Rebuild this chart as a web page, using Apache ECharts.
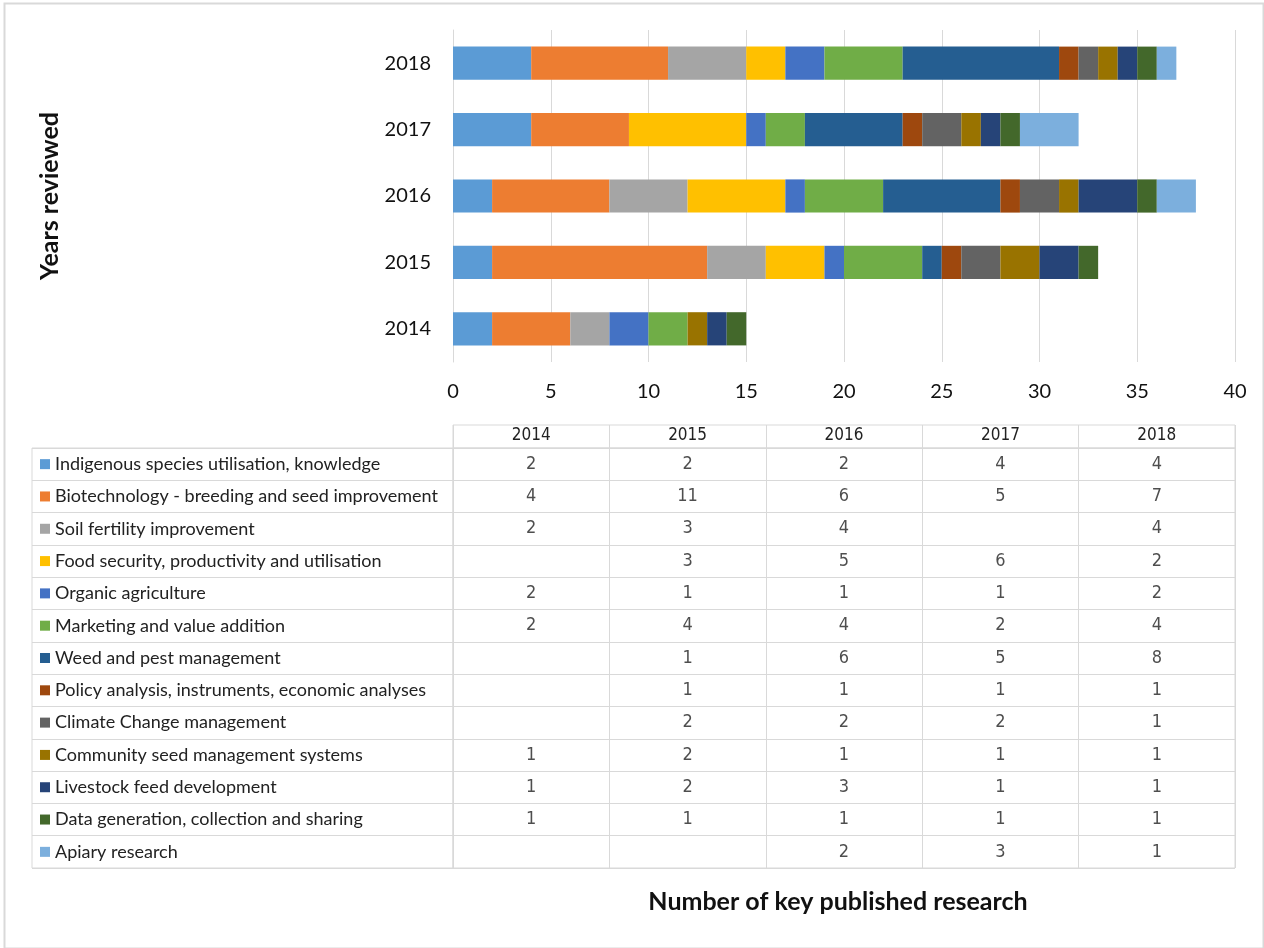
<!DOCTYPE html>
<html>
<head>
<meta charset="utf-8">
<script src="https://cdn.jsdelivr.net/npm/echarts@6/dist/echarts.min.js"></script>
<style>
html,body{margin:0;padding:0;background:#fff;}
#chart{width:1264px;height:948px;}
</style>
</head>
<body>
<div id="chart"></div>
<script>
// ---- data ----
const years = ['2014', '2015', '2016', '2017', '2018'];
const xTicks = [0, 5, 10, 15, 20, 25, 30, 35, 40];
const topics = [
  'Indigenous species utilisation, knowledge',
  'Biotechnology - breeding and seed improvement',
  'Soil fertility improvement',
  'Food security, productivity and utilisation',
  'Organic agriculture',
  'Marketing and value addition',
  'Weed and pest management',
  'Policy analysis, instruments, economic analyses',
  'Climate Change management',
  'Community seed management systems',
  'Livestock feed development',
  'Data generation, collection and sharing',
  'Apiary research'
];
const indigenous = [2, 2, 2, 4, 4];
const biotechnology = [4, 11, 6, 5, 7];
const soilFertility = [2, 3, 4, null, 4];
const foodSecurity = [null, 3, 5, 6, 2];
const organic = [2, 1, 1, 1, 2];
const marketing = [2, 4, 4, 2, 4];
const weedPest = [null, 1, 6, 5, 8];
const policy = [null, 1, 1, 1, 1];
const climate = [null, 2, 2, 2, 1];
const communitySeed = [1, 2, 1, 1, 1];
const livestock = [1, 2, 3, 1, 1];
const dataGeneration = [1, 1, 1, 1, 1];
const apiary = [null, null, 2, 3, 1];

const seriesValues = [indigenous, biotechnology, soilFertility, foodSecurity, organic,
  marketing, weedPest, policy, climate, communitySeed, livestock, dataGeneration, apiary];

const colors = ['#5B9BD5', '#ED7D31', '#A5A5A5', '#FFC000', '#4472C4', '#70AD47',
  '#255E91', '#9E480E', '#636363', '#997300', '#264478', '#43682B', '#7CAFDD'];

// ---- build ----
const FONT = 'Lato, "Open Sans", sans-serif';
const NARROW = '"Liberation Sans Narrow", "DejaVu Sans Condensed", Lato, sans-serif';
const GRIDC = '#d9d9d9';

const rich = { t: { fontFamily: FONT, fontSize: 18, color: '#222', padding: [0, 0, 0, 5] } };
colors.forEach((c, i) => { rich['c' + i] = { width: 10, height: 10, backgroundColor: c }; });

const barSeries = topics.map((name, i) => ({
  name: name,
  type: 'bar',
  stack: 'total',
  xAxisIndex: 0,
  yAxisIndex: 0,
  barWidth: '50%',
  itemStyle: { color: colors[i] },
  data: seriesValues[i]
}));

const cellData = [];
seriesValues.forEach((vals, r) => {
  vals.forEach((v, c) => { if (v !== null) cellData.push([c, r, v]); });
});

const chart = echarts.init(document.getElementById('chart'), null, { renderer: 'canvas' });
chart.setOption({
  animation: false,
  backgroundColor: '#fff',
  textStyle: { fontFamily: FONT },
  graphic: [{
    type: 'rect', left: 2, top: 1, shape: { width: 1259, height: 945 },
    style: { fill: 'none', stroke: GRIDC, lineWidth: 2 }, silent: true
  }],
  grid: [
    { left: 453, top: 30, width: 782, height: 332 },
    { left: 453, top: 425, width: 782, height: 23, show: true, borderColor: GRIDC, borderWidth: 1 },
    { left: 32, top: 448, width: 421, height: 420, show: true, borderColor: GRIDC, borderWidth: 1 },
    { left: 453, top: 448, width: 782, height: 420, show: true, borderColor: GRIDC, borderWidth: 1 }
  ],
  xAxis: [
    {
      gridIndex: 0, type: 'value', min: xTicks[0], max: xTicks[xTicks.length - 1], interval: 5,
      axisLine: { show: false }, axisTick: { show: false },
      splitLine: { lineStyle: { color: GRIDC, width: 1 } },
      axisLabel: { fontSize: 20, color: '#111', margin: 20, fontFamily: FONT },
      name: 'Number of key published research', nameLocation: 'middle', nameGap: 527,
      nameTextStyle: { fontSize: 25, fontWeight: 'bold', color: '#111', fontFamily: FONT, padding: [0, 12, 0, 0] }
    },
    {
      gridIndex: 1, type: 'category', data: years, position: 'bottom',
      axisLine: { show: false }, axisTick: { show: false },
      splitLine: { show: true, interval: 0, lineStyle: { color: GRIDC } },
      axisLabel: { inside: true, margin: 4, fontSize: 17, color: '#222', fontFamily: NARROW, interval: 0 }
    },
    { gridIndex: 2, type: 'category', data: [''], show: false },
    {
      gridIndex: 3, type: 'category', data: years,
      axisLine: { show: false }, axisTick: { show: false }, axisLabel: { show: false },
      splitLine: { show: true, interval: 0, lineStyle: { color: GRIDC } }
    }
  ],
  yAxis: [
    {
      gridIndex: 0, type: 'category', data: years,
      axisLine: { show: true, lineStyle: { color: GRIDC } }, axisTick: { show: false },
      axisLabel: { fontSize: 20, color: '#111', margin: 22, fontFamily: FONT },
      name: 'Years reviewed', nameLocation: 'middle', nameGap: 391, nameRotate: 90,
      nameTextStyle: { fontSize: 25, fontWeight: 'bold', color: '#111', fontFamily: FONT }
    },
    { gridIndex: 1, type: 'category', data: [''], show: false },
    {
      gridIndex: 2, type: 'category', data: topics, inverse: true,
      axisLine: { show: false }, axisTick: { show: false },
      splitLine: { show: true, interval: 0, lineStyle: { color: GRIDC } },
      axisLabel: {
        inside: true, margin: 8, interval: 0,
        formatter: (v, i) => '{c' + i + '|}{t|' + v + '}',
        rich: rich
      }
    },
    {
      gridIndex: 3, type: 'category', data: topics, inverse: true,
      axisLine: { show: false }, axisTick: { show: false }, axisLabel: { show: false },
      splitLine: { show: true, interval: 0, lineStyle: { color: GRIDC } }
    }
  ],
  series: barSeries.concat([{
    type: 'scatter', xAxisIndex: 3, yAxisIndex: 3, symbolSize: 1,
    itemStyle: { color: 'transparent' },
    label: {
      show: true, position: 'inside', formatter: p => String(p.value[2]),
      fontSize: 18, color: '#222', fontFamily: NARROW
    },
    data: cellData
  }])
});
</script>
</body>
</html>
